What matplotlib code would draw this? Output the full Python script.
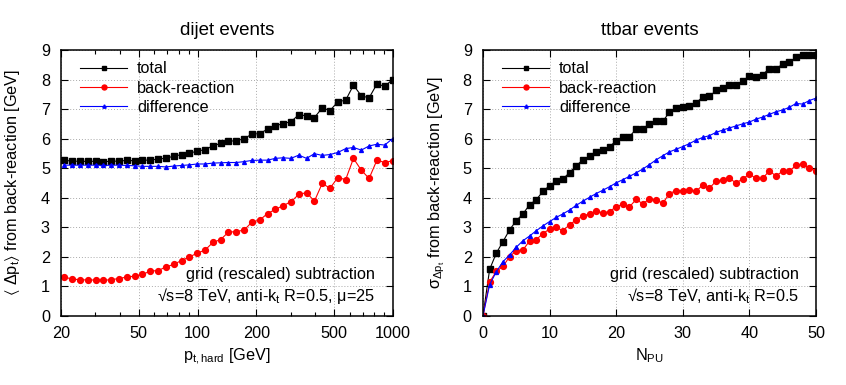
import numpy as np
import matplotlib
matplotlib.use("Agg")
import matplotlib.pyplot as plt
from matplotlib.ticker import FixedLocator, NullFormatter, LogLocator

plt.rcParams['font.family'] = ['Liberation Sans', 'DejaVu Sans']
plt.rcParams['mathtext.fontset'] = 'custom'
plt.rcParams['mathtext.rm'] = 'Liberation Sans'
plt.rcParams['mathtext.it'] = 'Liberation Sans'
plt.rcParams['mathtext.fallback'] = 'stixsans'

# dijet events: 43 log-spaced pt bins between 20 and 1000 GeV
pt_hard = np.geomspace(20.8, 995, 43)
dijet_total = [5.26, 5.24, 5.23, 5.23, 5.23, 5.22, 5.23, 5.24, 5.26, 5.25,
               5.26, 5.28, 5.30, 5.34, 5.40, 5.46, 5.51, 5.57, 5.63, 5.75,
               5.84, 5.92, 5.92, 6.00, 6.15, 6.17, 6.32, 6.43, 6.51, 6.57,
               6.81, 6.77, 6.71, 7.04, 6.95, 7.25, 7.30, 7.81, 7.45, 7.38,
               7.85, 7.77, 8.00]
dijet_back = [1.31, 1.24, 1.22, 1.21, 1.21, 1.20, 1.22, 1.26, 1.31, 1.34,
              1.40, 1.51, 1.53, 1.65, 1.74, 1.87, 1.99, 2.12, 2.22, 2.48,
              2.58, 2.83, 2.85, 2.90, 3.17, 3.24, 3.46, 3.60, 3.73, 3.86,
              4.11, 4.17, 3.88, 4.48, 4.32, 4.68, 4.61, 5.33, 4.93, 4.65,
              5.27, 5.19, 5.25]
dijet_diff = [5.10, 5.10, 5.10, 5.10, 5.10, 5.09, 5.10, 5.10, 5.09, 5.08,
              5.06, 5.06, 5.06, 5.04, 5.07, 5.09, 5.11, 5.14, 5.14, 5.17,
              5.18, 5.19, 5.19, 5.22, 5.26, 5.27, 5.27, 5.33, 5.35, 5.33,
              5.44, 5.33, 5.49, 5.43, 5.46, 5.53, 5.66, 5.70, 5.61, 5.75,
              5.81, 5.78, 6.00]

# ttbar events vs number of pileup events
npu = np.arange(0, 51)
tt_total = [0, 1.57, 2.12, 2.51, 2.91, 3.22, 3.45, 3.76, 3.93, 4.21, 4.41,
            4.56, 4.63, 4.85, 5.08, 5.28, 5.41, 5.54, 5.60, 5.72, 5.93,
            6.07, 6.07, 6.32, 6.31, 6.51, 6.58, 6.58, 6.90, 7.03, 7.06,
            7.11, 7.21, 7.41, 7.43, 7.63, 7.71, 7.83, 7.80, 7.96, 8.11,
            8.10, 8.17, 8.37, 8.37, 8.52, 8.58, 8.76, 8.82, 8.83, 8.84]
tt_back = [0, 1.14, 1.50, 1.67, 2.00, 2.20, 2.23, 2.53, 2.58, 2.78, 2.94,
           2.99, 2.88, 3.08, 3.25, 3.38, 3.45, 3.54, 3.48, 3.53, 3.69,
           3.78, 3.69, 3.94, 3.79, 3.96, 3.92, 3.81, 4.14, 4.24, 4.24,
           4.26, 4.21, 4.43, 4.32, 4.56, 4.60, 4.65, 4.50, 4.63, 4.80,
           4.65, 4.65, 4.91, 4.73, 4.90, 4.90, 5.09, 5.15, 4.99, 4.91]
tt_diff = [0, 1.05, 1.49, 1.83, 2.06, 2.32, 2.54, 2.70, 2.88, 3.04, 3.19,
           3.33, 3.45, 3.58, 3.74, 3.88, 4.01, 4.14, 4.25, 4.37, 4.50,
           4.61, 4.72, 4.84, 4.97, 5.12, 5.28, 5.42, 5.55, 5.64, 5.73,
           5.83, 5.95, 6.04, 6.10, 6.21, 6.29, 6.36, 6.43, 6.50, 6.56,
           6.66, 6.73, 6.82, 6.91, 6.97, 7.06, 7.19, 7.17, 7.29, 7.37]

labels = ['total', 'back-reaction', 'difference']
fs = 11.7

fig = plt.figure(figsize=(8.46, 3.85), dpi=100)
ax1 = fig.add_axes([0.0721, 0.180, 0.3924, 0.690])
ax2 = fig.add_axes([0.5709, 0.180, 0.3936, 0.690])


def draw(ax, x, tot, back, diff):
    ax.plot(x, tot, color='black', marker='s', ms=3.8, lw=0.8, label=labels[0])
    ax.plot(x, back, color='red', marker='o', ms=4.2, lw=0.8, label=labels[1])
    ax.plot(x, diff, color='blue', marker='^', ms=2.8, lw=0.8, label=labels[2])
    ax.set_ylim(0, 9)
    ax.set_yticks(range(10))
    ax.grid(True, which='major', color='#aaaaaa', ls=(0, (1, 2)), lw=0.7)
    ax.tick_params(which='both', direction='in', top=True, right=True,
                   labelsize=fs, width=0.8)
    ax.tick_params(which='major', length=5)
    ax.tick_params(which='minor', length=3)
    ax.tick_params(axis='y', pad=8)
    ax.tick_params(axis='x', pad=7.5)
    for s in ax.spines.values():
        s.set_linewidth(1.1)
    ax.legend(loc='upper left', bbox_to_anchor=(0.028, 0.994), frameon=False,
              fontsize=fs, numpoints=1, handlelength=2.9, handletextpad=0.6,
              labelspacing=0.26, borderaxespad=0.2, markerscale=0.85)


draw(ax1, pt_hard, dijet_total, dijet_back, dijet_diff)
ax1.set_xscale('log')
ax1.set_xlim(20, 1000)
ax1.xaxis.set_major_locator(FixedLocator([20, 50, 100, 200, 500, 1000]))
ax1.xaxis.set_major_formatter(plt.FuncFormatter(lambda v, p: '%d' % v))
ax1.xaxis.set_minor_locator(LogLocator(subs=np.arange(2, 10)))
ax1.xaxis.set_minor_formatter(NullFormatter())
ax1.set_title('dijet events', fontsize=13.5, pad=11)
ax1.set_xlabel(r'$\mathregular{p_{t,hard}}$ [GeV]', fontsize=fs)
ax1.set_ylabel(r'$\mathregular{\langle\ \Delta p_t\rangle}$ from back-reaction [GeV]', fontsize=fs)
ax1.yaxis.set_label_coords(-0.1175, 0.5)
ax1.text(0.945, 0.155, 'grid (rescaled) subtraction', transform=ax1.transAxes,
         ha='right', va='center', fontsize=fs)
ax1.text(0.945, 0.075, '\u221as=8 TeV, anti-$\\mathregular{k_t}$ R=0.5, \u03bc=25',
         transform=ax1.transAxes, ha='right', va='center', fontsize=fs)

draw(ax2, npu, tt_total, tt_back, tt_diff)
ax2.set_xlim(0, 50)
ax2.set_xticks(range(0, 51, 10))
ax2.set_title('ttbar events', fontsize=13.5, pad=11)
ax2.set_xlabel(r'$\mathregular{N_{PU}}$', fontsize=fs)
ax2.set_ylabel(r'$\mathregular{\sigma_{\Delta p_t}}$ from back-reaction [GeV]', fontsize=fs)
ax2.yaxis.set_label_coords(-0.108, 0.5)
ax2.text(0.95, 0.155, 'grid (rescaled) subtraction', transform=ax2.transAxes,
         ha='right', va='center', fontsize=fs)
ax2.text(0.95, 0.075, '\u221as=8 TeV, anti-$\\mathregular{k_t}$ R=0.5',
         transform=ax2.transAxes, ha='right', va='center', fontsize=fs)

fig.savefig('out.png', dpi=100)
